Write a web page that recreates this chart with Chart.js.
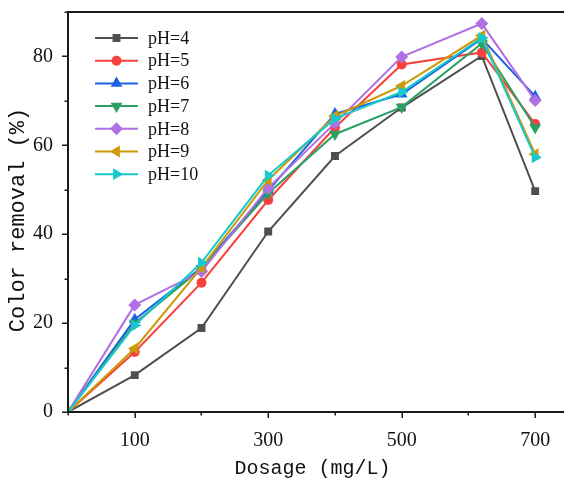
<!DOCTYPE html>
<html><head><meta charset="utf-8">
<script src="https://cdn.jsdelivr.net/npm/chart.js@4/dist/chart.umd.min.js"></script>
<style>html,body{margin:0;padding:0;background:#fff}#wrap{width:564px;height:481px;position:relative}</style>
</head><body><div id="wrap"><canvas id="c"></canvas></div>
<script>
// ---- data ----
const dosage = [0, 100, 200, 300, 400, 500, 620, 700];
const seriesNames = ['pH=4', 'pH=5', 'pH=6', 'pH=7', 'pH=8', 'pH=9', 'pH=10'];
const pH4  = [0, 8.3, 18.9, 40.6, 57.6, 68.5, 80.1, 49.7];
const pH5  = [0, 13.5, 29.1, 47.7, 64.0, 78.2, 80.9, 64.8];
const pH6  = [0, 20.8, 32.5, 49.8, 67.1, 71.5, 84.0, 71.0];
const pH7  = [0, 20.0, 32.3, 49.2, 62.5, 68.6, 82.9, 64.0];
const pH8  = [0, 24.1, 31.6, 50.4, 65.0, 79.9, 87.4, 70.1];
const pH9  = [0, 14.3, 32.5, 52.2, 66.6, 73.4, 84.7, 58.0];
const pH10 = [0, 19.5, 33.6, 53.2, 66.0, 72.0, 84.2, 57.3];
const xTickValues = [0, 100, 200, 300, 400, 500, 600, 700];
const xTickLabels = [100, 300, 500, 700];
const yTickValues = [0, 10, 20, 30, 40, 50, 60, 70, 80, 90];
const yTickLabels = [0, 20, 40, 60, 80];
const xTitle = 'Dosage (mg/L)';
const yTitle = 'Color removal (%)';

// ---- styles ----
const seriesValues = [pH4, pH5, pH6, pH7, pH8, pH9, pH10];
const colors = ['#4f4f4f', '#f8413f', '#1c62e3', '#2e9f62', '#b06fe3', '#cc9a06', '#17c9cd'];
const styles = ['rect', 'circle', 'triangle', 'triangle', 'rectRot', 'triangle', 'triangle'];
const rotations = [0, 0, 0, 180, 0, 270, 90];
const radii = [5.6, 5, 6.8, 6.8, 6.5, 6.8, 6.8];

const datasets = seriesNames.map((n, i) => ({
  label: n,
  data: dosage.map((x, j) => ({x: x, y: seriesValues[i][j]})),
  borderColor: colors[i],
  backgroundColor: colors[i],
  borderWidth: 2,
  pointStyle: styles[i],
  pointRotation: rotations[i],
  pointRadius: radii[i],
  pointBorderWidth: 0,
  pointHoverRadius: radii[i],
  tension: 0,
  order: seriesNames.length - i
}));

const AXIS = '#1a1a1a';
const framePlugin = {
  id: 'frame',
  afterDraw(chart) {
    const ctx = chart.ctx, ca = chart.chartArea;
    const xs = chart.scales.x, ys = chart.scales.y;
    ctx.save();
    ctx.strokeStyle = AXIS; ctx.lineWidth = 2; ctx.lineCap = 'square';
    ctx.beginPath();
    ctx.moveTo(ca.left, ca.top); ctx.lineTo(ca.left, ca.bottom); ctx.lineTo(chart.width, ca.bottom);
    ctx.moveTo(ca.left, ca.top); ctx.lineTo(chart.width, ca.top);
    ctx.stroke();
    ctx.lineWidth = 1.5; ctx.lineCap = 'butt';
    ctx.beginPath();
    xTickValues.forEach(v => {
      const p = Math.round(xs.getPixelForValue(v)) + 0.25;
      const len = xTickLabels.includes(v) ? 6 : 3.5;
      ctx.moveTo(p, ca.bottom); ctx.lineTo(p, ca.bottom + len);
    });
    yTickValues.forEach(v => {
      const p = Math.round(ys.getPixelForValue(v)) + 0.25;
      const len = yTickLabels.includes(v) ? 6 : 3.5;
      ctx.moveTo(ca.left, p); ctx.lineTo(ca.left - len, p);
    });
    ctx.stroke();
    // y title
    ctx.fillStyle = '#111';
    ctx.font = '22px "Liberation Mono", monospace';
    ctx.textAlign = 'center'; ctx.textBaseline = 'middle';
    ctx.translate(18, 220); ctx.rotate(-Math.PI / 2);
    ctx.fillText(yTitle, 0, 0);
    ctx.restore();
    // legend
    ctx.save();
    ctx.font = '18px "Liberation Serif", serif';
    ctx.textAlign = 'left'; ctx.textBaseline = 'middle';
    chart.data.datasets.forEach((d, i) => {
      const y = 38 + i * 22.7;
      ctx.strokeStyle = d.borderColor; ctx.lineWidth = 2;
      ctx.beginPath(); ctx.moveTo(95, y); ctx.lineTo(138, y); ctx.stroke();
      ctx.fillStyle = d.backgroundColor;
      Chart.helpers.drawPoint(ctx, {pointStyle: d.pointStyle, rotation: d.pointRotation, radius: d.pointRadius, borderWidth: 0}, 116.5, y);
      ctx.fillStyle = '#111';
      ctx.fillText(d.label, 148, y + 1);
    });
    ctx.restore();
  }
};

new Chart(document.getElementById('c'), {
  type: 'line',
  data: {datasets},
  plugins: [framePlugin],
  options: {
    responsive: true, maintainAspectRatio: false, animation: false,
    layout: {padding: {left: 0, right: 1, top: 12, bottom: 0}},
    plugins: {legend: {display: false}, tooltip: {enabled: false}},
    scales: {
      x: {
        type: 'linear', min: 0, max: 733,
        grid: {display: false, drawTicks: false},
        border: {display: false},
        afterBuildTicks(s) { s.ticks = xTickValues.map(v => ({value: v})); },
        afterFit(s) { s.height = 69; s.paddingLeft = 0; s.paddingRight = 0; },
        ticks: {
          autoSkip: false, padding: 17, color: '#111', maxRotation: 0,
          font: {family: '"Liberation Serif", serif', size: 20},
          callback: v => xTickLabels.includes(v) ? String(v) : ''
        },
        title: {display: true, text: xTitle, color: '#111', padding: {top: 0, bottom: 0},
          font: {family: '"Liberation Mono", monospace', size: 20}}
      },
      y: {
        min: 0, max: 90,
        grid: {display: false, drawTicks: false},
        border: {display: false},
        afterBuildTicks(s) { s.ticks = yTickValues.map(v => ({value: v})); },
        afterFit(s) { s.width = 68; s.paddingTop = 0; s.paddingBottom = 0; },
        ticks: {
          autoSkip: false, padding: 15, color: '#111',
          font: {family: '"Liberation Serif", serif', size: 20},
          callback: v => yTickLabels.includes(v) ? String(v) : ''
        }
      }
    }
  }
});
</script></body></html>
